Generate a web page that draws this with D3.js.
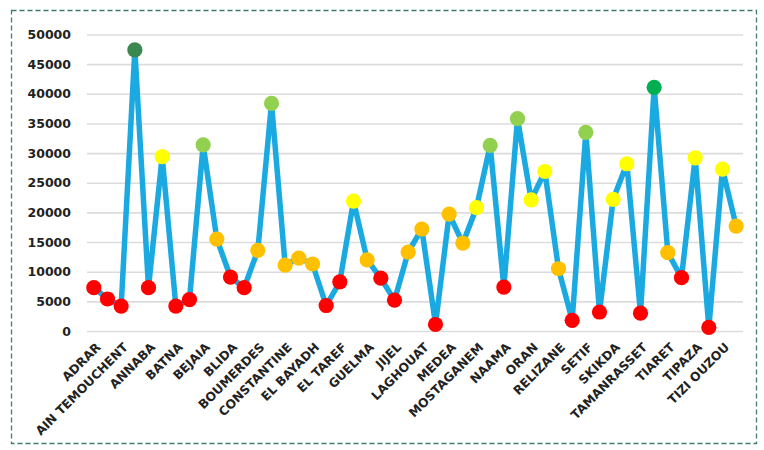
<!DOCTYPE html>
<html>
<head>
<meta charset="utf-8">
<script src="https://cdn.jsdelivr.net/npm/d3@7"></script>
<style>
  body { margin: 0; background: #ffffff; }
  svg { display: block; }
</style>
</head>
<body>
<svg id="chart" width="764" height="450"></svg>
<script>
// Wilayas in the order they are plotted
const wilayas = [
  "ADRAR", "AIN DEFLA", "AIN TEMOUCHENT", "ALGER", "ANNABA", "B.B.ARRERIDJ",
  "BATNA", "BECHAR", "BEJAIA", "BISKRA", "BLIDA", "BOUIRA",
  "BOUMERDES", "CHLEF", "CONSTANTINE", "DJELFA", "EL BAYADH", "EL OUED",
  "EL TAREF", "GHARDAIA", "GUELMA", "ILLIZI", "JIJEL", "KHENCHELA",
  "LAGHOUAT", "MASCARA", "MEDEA", "MILA", "MOSTAGANEM", "MSILA",
  "NAAMA", "O.E.BOUAGHI", "ORAN", "OUARGLA", "RELIZANE", "SAIDA",
  "SETIF", "SIDI BEL ABBES", "SKIKDA", "SOUK AHRAS", "TAMANRASSET", "TEBESSA",
  "TIARET", "TINDOUF", "TIPAZA", "TISSEMSILT", "TIZI OUZOU", "TLEMCEN"
];

// One value per wilaya
const values = [
  7300, 5400, 4200, 47400, 7300, 29400,
  4200, 5300, 31400, 15500, 9100, 7300,
  13600, 38400, 11100, 12300, 11300, 4300,
  8300, 21900, 12000, 8900, 5200, 13300,
  17200, 1100, 19700, 14800, 20800, 31300,
  7400, 35800, 22100, 26900, 10500, 1800,
  33500, 3200, 22200, 28200, 3000, 41100,
  13200, 9000, 29200, 600, 27300, 17700
];

// Only every second wilaya gets an axis label
const tickLabels = wilayas.filter((d, i) => i % 2 === 0);

const yTicks = d3.range(0, 50001, 5000);

// Value bands that set the marker colour
const colorBreaks = [10000, 20000, 30000, 40000, 45000];

const data = wilayas.map((name, i) => ({ name, value: values[i] }));

const svg = d3.select("#chart");

const plot = { left: 87, right: 743, top: 34.5, bottom: 331 };

const x = d3.scalePoint()
  .domain(wilayas)
  .range([plot.left, plot.right])
  .padding(0.5);

const y = d3.scaleLinear()
  .domain([0, 50000])
  .range([plot.bottom, plot.top]);

const markerColor = d3.scaleThreshold()
  .domain(colorBreaks)
  .range(["#ff0000", "#ffc000", "#ffff00", "#92d050", "#00b050", "#3b8750"]);

// Dashed frame around the chart
svg.append("rect")
  .attr("x", 11.5)
  .attr("y", 10.5)
  .attr("width", 745)
  .attr("height", 433)
  .attr("fill", "#ffffff")
  .attr("stroke", "#3f7d72")
  .attr("stroke-width", 1.3)
  .attr("stroke-dasharray", "5,3");

// Horizontal gridlines with value labels
const yAxis = d3.axisLeft(y)
  .tickValues(yTicks)
  .tickSize(-(plot.right - plot.left))
  .tickPadding(16)
  .tickFormat(d3.format("d"));

const yG = svg.append("g")
  .attr("transform", `translate(${plot.left},0)`)
  .call(yAxis);

yG.select(".domain").remove();
yG.selectAll(".tick line")
  .attr("stroke", "#dcdcdc")
  .attr("stroke-width", 1.6);
yG.selectAll(".tick text")
  .attr("fill", "#222222")
  .style("font-family", "'DejaVu Sans', sans-serif")
  .style("font-size", "12.5px")
  .style("font-weight", "bold");

// Category labels, slanted
const xAxis = d3.axisBottom(x)
  .tickValues(tickLabels)
  .tickSize(0)
  .tickPadding(0);

const xG = svg.append("g")
  .attr("transform", `translate(0,${plot.bottom})`)
  .call(xAxis);

xG.select(".domain").remove();
xG.selectAll(".tick text")
  .attr("fill", "#222222")
  .attr("text-anchor", "end")
  .attr("x", 0)
  .attr("y", 0)
  .attr("dy", "0.35em")
  .attr("transform", "translate(4,14) rotate(-45)")
  .style("font-family", "'DejaVu Sans', sans-serif")
  .style("font-size", "12.3px")
  .style("font-weight", "bold");

// Connecting line
const line = d3.line()
  .x(d => x(d.name))
  .y(d => y(d.value))
  .curve(d3.curveLinear);

svg.append("path")
  .datum(data)
  .attr("fill", "none")
  .attr("stroke", "#1ba9e1")
  .attr("stroke-width", 5.5)
  .attr("stroke-linejoin", "round")
  .attr("d", line);

// Markers coloured by value band
svg.append("g")
  .selectAll("circle")
  .data(data)
  .join("circle")
  .attr("cx", d => x(d.name))
  .attr("cy", d => y(d.value))
  .attr("r", 7.6)
  .attr("fill", d => markerColor(d.value));
</script>
</body>
</html>
